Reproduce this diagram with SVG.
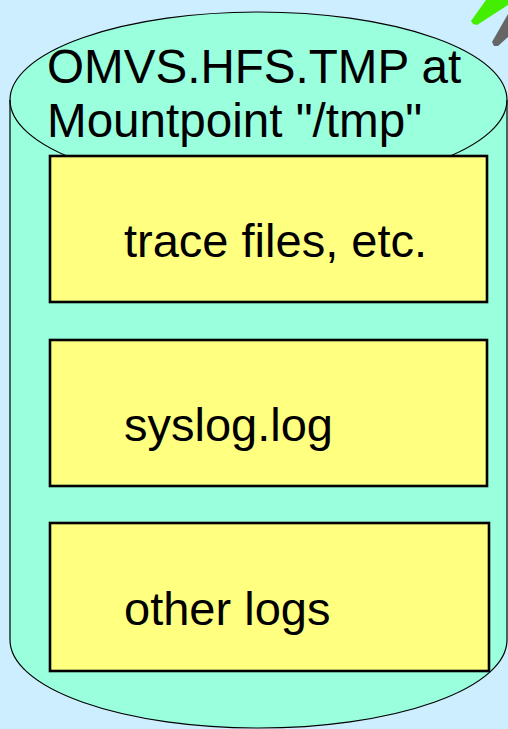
<svg xmlns="http://www.w3.org/2000/svg" width="508" height="729" viewBox="0 0 508 729">
<style>
.bg{fill:#CCEEFF}
.cyl{fill:#99FFDD;stroke:#000;stroke-width:1.2}
.rim{fill:none;stroke:#000;stroke-width:1.2}
.box{fill:#FFFF80;stroke:#000;stroke-width:2.6}
text{font-family:"Liberation Sans",Arial,sans-serif;font-size:47px;fill:#000}
.title{font-size:47.6px}
</style>
<rect class="bg" x="0" y="0" width="508" height="729"/>
<polygon points="486,0 508,0 508,5 477,25 473,24 471,21" fill="#44EE00"/>
<polygon points="508,14 508,37 498,46 494,46 492,42" fill="#666666"/>
<g id="cylinder">
<path class="cyl" d="M10,100 A248.5,88 0 0 1 507,100 L507,640 A248.5,88 0 0 1 10,640 Z"/>
<path class="rim" d="M10,100 A248.5,88 0 0 0 507,100"/>
<text class="title" x="47" y="83">OMVS.HFS.TMP at</text>
<text class="title" x="47" y="137">Mountpoint "/tmp"</text>
</g>
<g id="trace">
<rect class="box" x="50" y="156" width="437" height="146"/>
<text x="124" y="257">trace files, etc.</text>
</g>
<g id="syslog">
<rect class="box" x="50" y="340" width="437" height="146"/>
<text x="124" y="441">syslog.log</text>
</g>
<g id="other">
<rect class="box" x="50" y="523" width="439" height="148"/>
<text x="124" y="625">other logs</text>
</g>
<g id="connectors"></g>
</svg>
